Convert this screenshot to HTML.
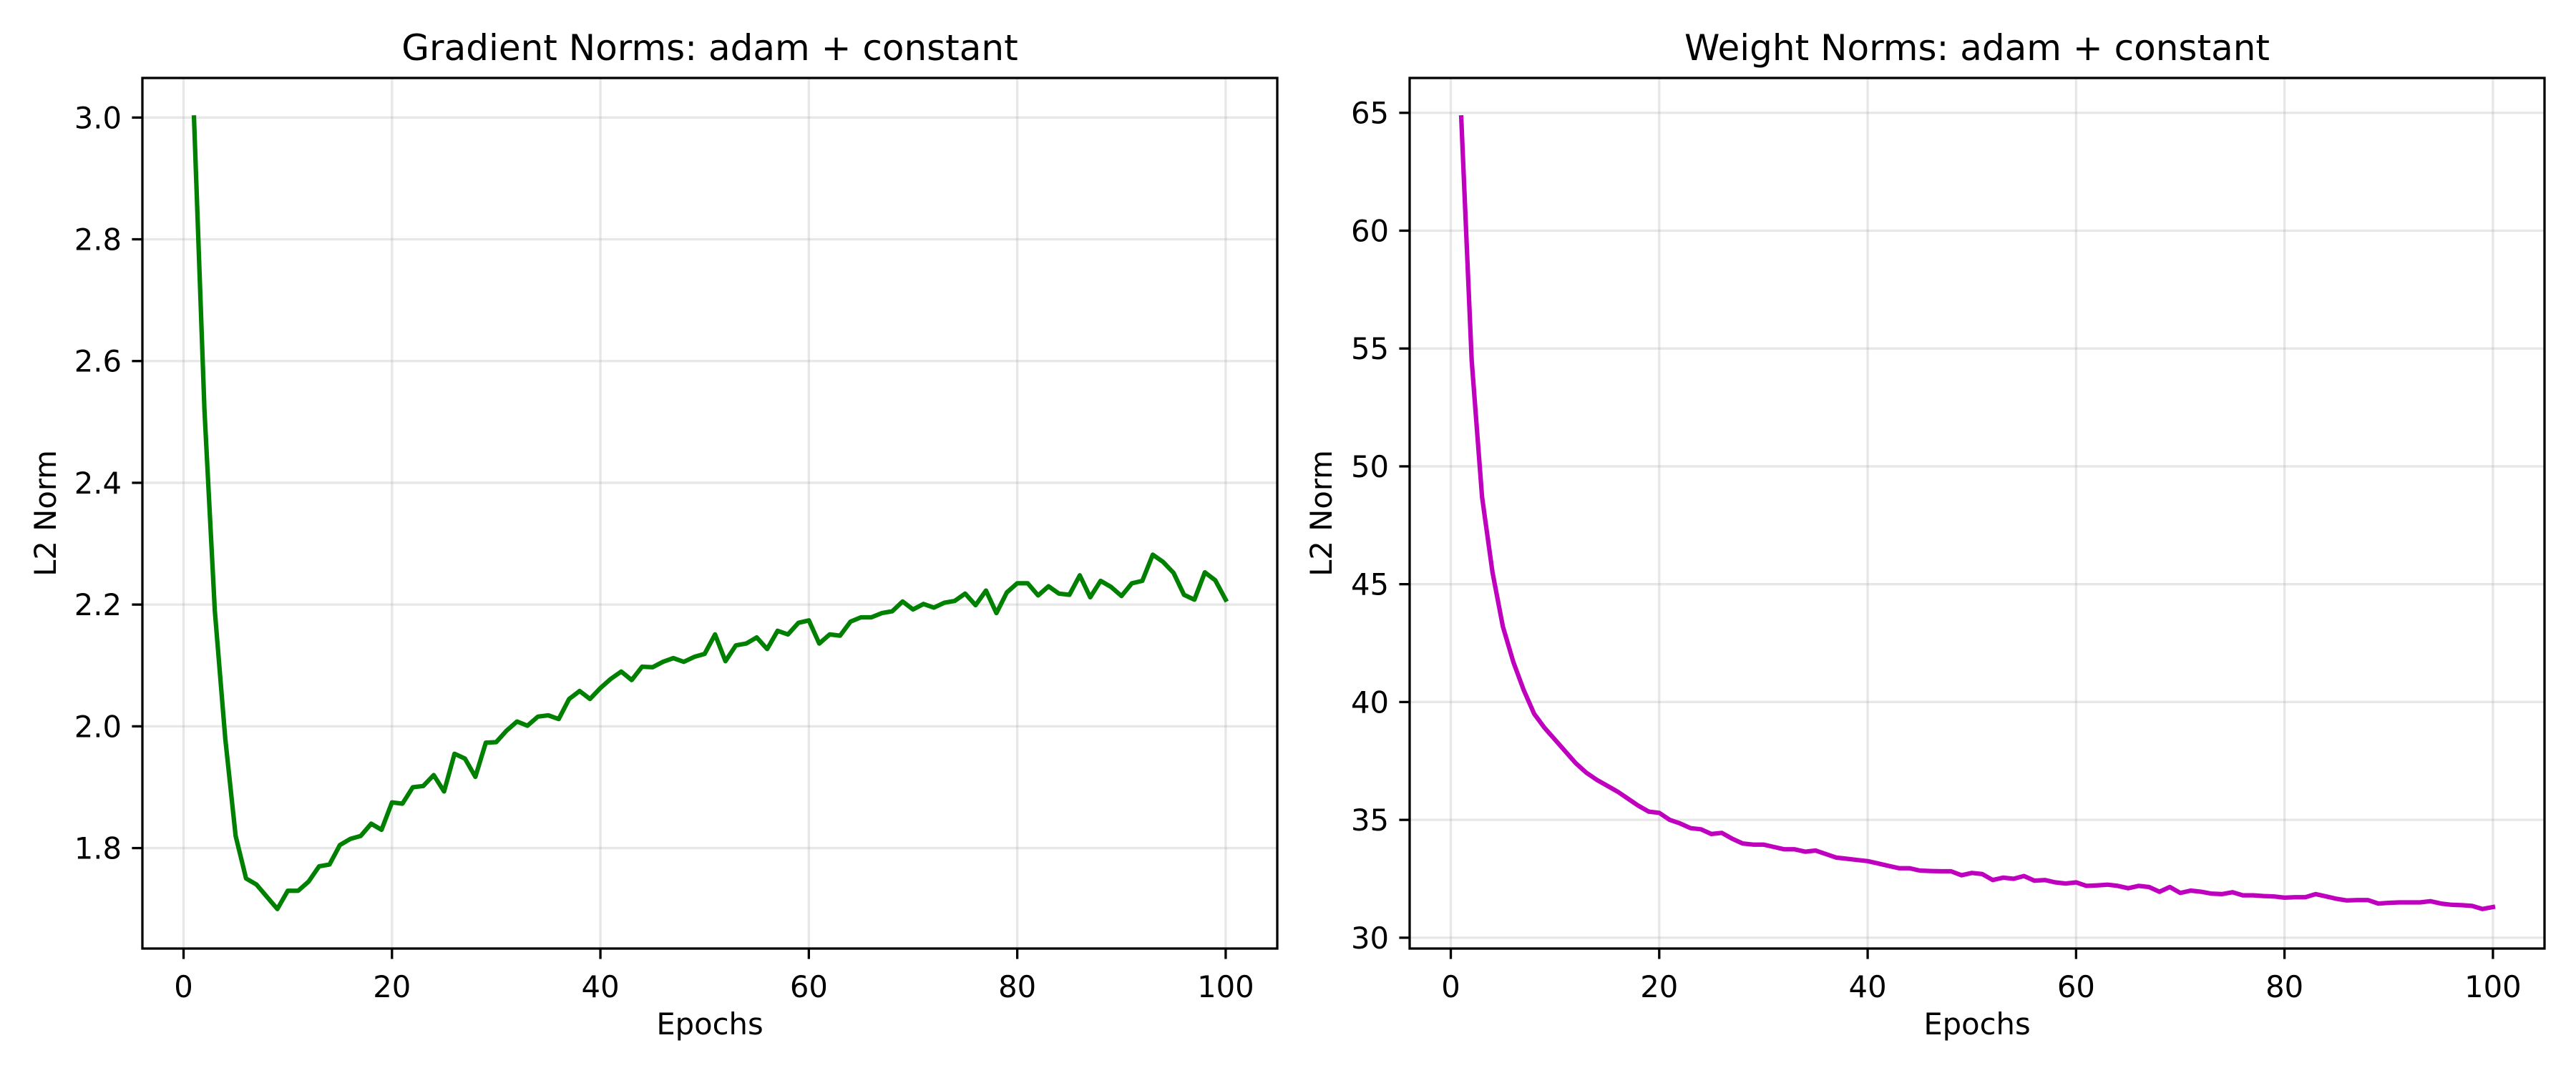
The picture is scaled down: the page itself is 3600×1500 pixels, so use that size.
<!DOCTYPE html>
<html><head><meta charset="utf-8"><style>
html,body{margin:0;padding:0;background:#fff;}
svg{display:block;font-family:"DejaVu Sans","Liberation Sans",sans-serif;}
</style></head><body>
<svg id="fig" width="3600" height="1500" viewBox="0 0 3600 1500" xmlns="http://www.w3.org/2000/svg">
<rect width="3600" height="1500" fill="#fff"/>
</svg>
<script>
const epochs = Array.from({length:100},(_,i)=>i+1);
const gradNorms = [3.0,2.52,2.19,1.98,1.82,1.75,1.74,1.72,1.70,1.73,1.73,1.745,1.77,1.773,1.805,1.815,1.82,1.84,1.83,1.875,
1.873,1.90,1.902,1.92,1.893,1.955,1.947,1.917,1.973,1.974,1.993,2.008,2.001,2.016,2.018,2.012,2.045,2.058,2.045,2.063,
2.078,2.09,2.076,2.098,2.097,2.106,2.112,2.106,2.114,2.119,2.151,2.107,2.133,2.136,2.146,2.127,2.157,2.151,2.17,2.174,
2.136,2.151,2.149,2.172,2.179,2.179,2.186,2.189,2.205,2.192,2.201,2.195,2.203,2.206,2.218,2.199,2.223,2.186,2.22,2.235,
2.235,2.215,2.23,2.218,2.216,2.248,2.212,2.239,2.229,2.214,2.235,2.239,2.282,2.27,2.252,2.216,2.208,2.253,2.24,2.208];
const weightNorms = [64.8,54.5,48.7,45.5,43.2,41.7,40.5,39.5,38.9,38.4,37.9,37.4,37.0,36.7,36.45,36.2,35.9,35.6,35.35,35.3,
35.0,34.85,34.65,34.6,34.4,34.45,34.2,34.0,33.95,33.95,33.85,33.75,33.75,33.65,33.7,33.55,33.4,33.35,33.3,33.25,
33.15,33.05,32.95,32.95,32.85,32.83,32.82,32.82,32.65,32.75,32.7,32.45,32.55,32.5,32.62,32.42,32.45,32.35,32.3,32.35,
32.2,32.22,32.25,32.2,32.1,32.2,32.15,31.95,32.15,31.9,32.0,31.95,31.87,31.85,31.93,31.8,31.8,31.77,31.75,31.7,
31.72,31.72,31.85,31.75,31.65,31.58,31.6,31.6,31.45,31.48,31.5,31.5,31.5,31.55,31.45,31.4,31.38,31.35,31.22,31.3];
const xTicks = [0,20,40,60,80,100];
const gradYTicks = [1.8,2.0,2.2,2.4,2.6,2.8,3.0];
const gradYLabels = ["1.8","2.0","2.2","2.4","2.6","2.8","3.0"];
const weightYTicks = [30,35,40,45,50,55,60,65];
const weightYLabels = ["30","35","40","45","50","55","60","65"];

const NS="http://www.w3.org/2000/svg";
const fig=document.getElementById('fig');
function mk(tag,attrs,parent){const e=document.createElementNS(NS,tag);for(const k in attrs)e.setAttribute(k,attrs[k]);(parent||fig).appendChild(e);return e;}

function panel(key,left,title,ys,yTicks,yLabels,color,ylabX){
  const right=left+1586, top=109, bottom=1326;
  const minX=1,maxX=100; const mx=(maxX-minX)*0.05;
  const x0=minX-mx,x1=maxX+mx;
  const ymin=Math.min(...ys),ymax=Math.max(...ys); const my=(ymax-ymin)*0.05;
  const y0=ymin-my,y1=ymax+my;
  const sx=v=>left+(v-x0)/(x1-x0)*(right-left);
  const sy=v=>bottom-(v-y0)/(y1-y0)*(bottom-top);
  const g=mk('g',{});
  
  
  xTicks.forEach(t=>{
    const X=sx(t);
    const gl=mk('line',{x1:X,x2:X,y1:top,y2:bottom,stroke:'#b0b0b0','stroke-opacity':0.3,'stroke-width':3.3},g);
    
    
    const tk=mk('line',{x1:X,x2:X,y1:bottom,y2:bottom+14.6,stroke:'#000','stroke-width':3.3},g);
    
    
    const tl=mk('text',{x:X,y:bottom+68,'font-size':41.7,'text-anchor':'middle',fill:'#000'},g);
    tl.textContent=String(t);
    
    
  });
  yTicks.forEach((t,i)=>{
    const Y=sy(t);
    const gl=mk('line',{x1:left,x2:right,y1:Y,y2:Y,stroke:'#b0b0b0','stroke-opacity':0.3,'stroke-width':3.3},g);
    
    
    const tk=mk('line',{x1:left-14.6,x2:left,y1:Y,y2:Y,stroke:'#000','stroke-width':3.3},g);
    
    
    const tl=mk('text',{x:left-29,y:Y+15,'font-size':41.7,'text-anchor':'end',fill:'#000'},g);
    tl.textContent=yLabels[i];
    
    
  });
  const pts=epochs.map((e,i)=>sx(e).toFixed(1)+','+sy(ys[i]).toFixed(1)).join(' ');
  const line=mk('polyline',{points:pts,fill:'none',stroke:color,'stroke-width':6.25,'stroke-linejoin':'round','stroke-linecap':'square'},g);
  
  
  const fr=mk('rect',{x:left,y:top,width:right-left,height:bottom-top,fill:'none',stroke:'#000','stroke-width':3.3},g);
  
  
  const tt=mk('text',{x:(left+right)/2,y:84,'font-size':50,'text-anchor':'middle',fill:'#000'},g);
  tt.textContent=title;
  
  
  const xl=mk('text',{x:(left+right)/2,y:1446,'font-size':41.7,'text-anchor':'middle',fill:'#000'},g);
  xl.textContent='Epochs';
  
  
  const cy=(top+bottom)/2;
  const yl=mk('text',{x:ylabX,y:cy,'font-size':41.7,'text-anchor':'middle',fill:'#000',transform:'rotate(-90 '+ylabX+' '+cy+')'},g);
  yl.textContent='L2 Norm';
  
  
}
panel('gradient-norm',199,'Gradient Norms: adam + constant',gradNorms,gradYTicks,gradYLabels,'#008000',78);
panel('weight-norm',1970,'Weight Norms: adam + constant',weightNorms,weightYTicks,weightYLabels,'#bf00bf',1861);
</script>
</body></html>
